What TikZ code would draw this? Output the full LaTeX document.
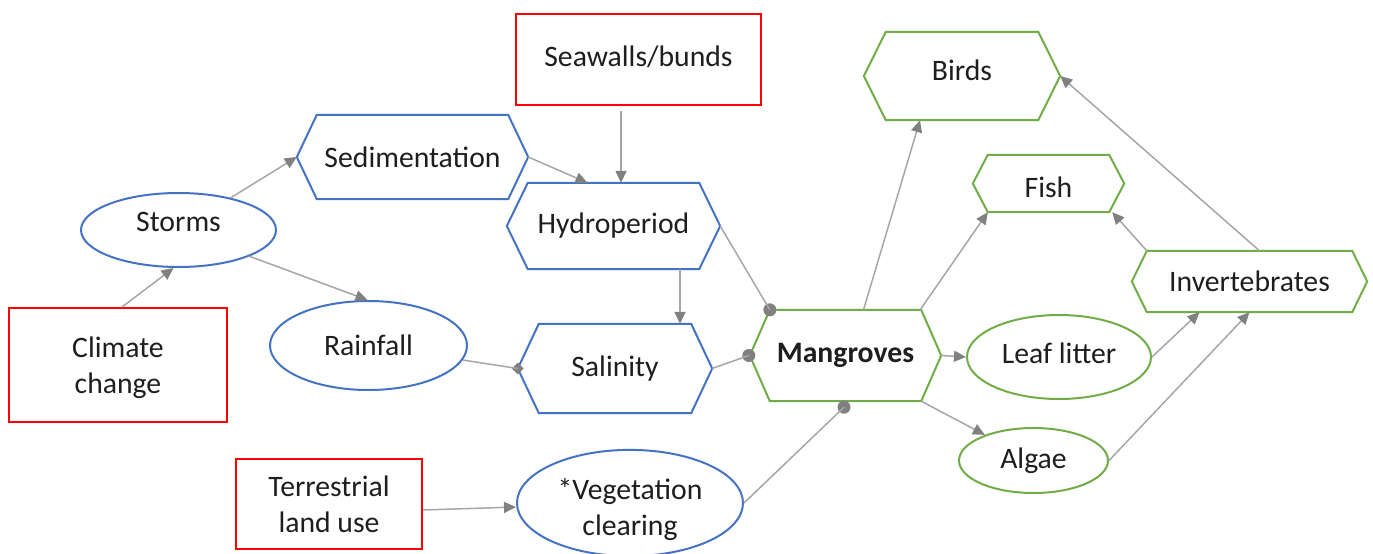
\documentclass[tikz,border=0pt]{standalone}
\usepackage{fontspec}
\setmainfont{Carlito}
\usetikzlibrary{arrows.meta,shapes.geometric}

\definecolor{nodeblue}{HTML}{4472C4}
\definecolor{nodegreen}{HTML}{70AD47}
\definecolor{nodered}{HTML}{FF0000}
\definecolor{linkgray}{HTML}{A6A6A6}
\definecolor{tipgray}{HTML}{808080}
\definecolor{inkgray}{HTML}{1E1E1E}

\tikzset{
  base/.style={inner sep=0pt, text=inkgray, align=center,
    font=\fontsize{29.7}{36}\selectfont},
  driver/.style={base, rectangle, draw=nodered, line width=2pt},
  hexbox/.style={base, rectangle},
  oval/.style={base, ellipse, line width=2pt},
  link/.style={draw=linkgray, line width=1.5pt,
    -{Triangle[length=12pt,width=11pt,color=tipgray]}},
  plainlink/.style={draw=linkgray, line width=1.5pt},
  dotend/.style={circle, fill=tipgray, minimum size=13pt, inner sep=0pt},
  diamondend/.style={diamond, fill=tipgray, minimum width=12pt,
    minimum height=12pt, inner sep=0pt},
}

% hexagon outline around a rectangular node: node, indent, colour
\newcommand\hexoutline[3]{%
  \draw[#3, line width=2pt] (#1.west) -- ([xshift=#2]#1.north west)
    -- ([xshift=-#2]#1.north east) -- (#1.east)
    -- ([xshift=-#2]#1.south east) -- ([xshift=#2]#1.south west) -- cycle;}

\begin{document}
\begin{tikzpicture}[x=1pt, y=-1pt]
\useasboundingbox (0,0) rectangle (1373,554);

% drivers
\node[driver, minimum width=245pt, minimum height=91pt] (sea) at (638.5,59.5) {\raisebox{6pt}{Seawalls/bunds}};
\node[driver, minimum width=218pt, minimum height=114pt] (climate) at (118,365) {\rule{0pt}{26pt}Climate\\change};
\node[driver, minimum width=186pt, minimum height=90pt] (terr) at (329,504) {Terrestrial\\land use};

% pressures
\node[oval, draw=nodeblue, minimum width=195pt, minimum height=74pt] (storms) at (178.5,230) {\raisebox{16pt}{Storms}};
\node[oval, draw=nodeblue, minimum width=197pt, minimum height=89pt] (rain) at (368.5,345.5) {Rainfall};
\node[oval, draw=nodeblue, minimum width=226pt, minimum height=101pt] (veg) at (630,503) {\rule{0pt}{34pt}*Vegetation\\clearing};

\node[hexbox, minimum width=231pt, minimum height=84pt] (sed) at (412.5,157) {Sedimentation};
\node[hexbox, minimum width=213pt, minimum height=86pt] (hyd) at (613.5,226) {Hydroperiod};
\node[hexbox, minimum width=194pt, minimum height=89pt] (sal) at (615,368.5) {Salinity};
\hexoutline{sed}{20pt}{nodeblue}
\hexoutline{hyd}{21pt}{nodeblue}
\hexoutline{sal}{21pt}{nodeblue}

% ecosystem components
\node[hexbox, minimum width=191pt, minimum height=91pt] (mang) at (845.5,355.5) {\textbf{Mangroves}};
\node[hexbox, minimum width=196pt, minimum height=88pt] (birds) at (962,76) {\raisebox{12pt}{Birds}};
\node[hexbox, minimum width=151pt, minimum height=57pt] (fish) at (1048.5,183.5) {\rule{0pt}{29pt}Fish};
\node[hexbox, minimum width=235pt, minimum height=61pt] (inv) at (1249.5,281.5) {Invertebrates};
\hexoutline{mang}{20pt}{nodegreen}
\hexoutline{birds}{22pt}{nodegreen}
\hexoutline{fish}{15pt}{nodegreen}
\hexoutline{inv}{15pt}{nodegreen}

\node[oval, draw=nodegreen, minimum width=184pt, minimum height=84pt] (leaf) at (1059,357) {\raisebox{8pt}{Leaf litter}};
\node[oval, draw=nodegreen, minimum width=149pt, minimum height=65pt] (algae) at (1033.5,460.5) {Algae};

% end markers on mangroves
\node[dotend] (d1) at ([xshift=20pt]mang.north west) {};
\node[dotend] (d2) at ([xshift=-1pt]mang.west) {};
\node[dotend] (d3) at ([xshift=-1.5pt,yshift=-6pt]mang.south) {};
\node[diamondend] (dm) at (sal.west) {};

% connectors
\draw[link] ([xshift=4pt]climate.north) -- ([xshift=-5pt]storms.south);
\draw[link] (storms) -- (sed.west);
\draw[link] (storms) -- ([xshift=-1pt]rain.north);
\draw[link] (sed.east) -- ([xshift=-26pt]hyd.north);
\draw[link] ([xshift=-17.5pt,yshift=-5pt]sea.south) -- ([xshift=7.5pt]hyd.north);
\draw[link] ([xshift=66.5pt]hyd.south) -- ([xshift=65pt]sal.north);
\draw[plainlink] (rain) -- (dm.center);
\draw[plainlink] (hyd.east) -- (d1.center);
\draw[plainlink] (sal.east) -- (d2.center);
\draw[plainlink] (veg.east) -- (d3.center);
\draw[link] ([yshift=-6pt]terr.east) -- ([yshift=-4pt]veg.west);

\draw[link] ([xshift=18pt]mang.north) -- ([xshift=-42pt]birds.south);
\draw[link] ([xshift=-21pt]mang.north east) -- ([xshift=15pt]fish.south west);
\draw[link] (mang.east) -- (leaf.west);
\draw[link] ([xshift=-20pt]mang.south east) -- (algae);
\draw[link] (leaf.east) -- ([xshift=-50pt]inv.south);
\draw[link] (algae.east) -- (inv.south);
\draw[link] ([xshift=15pt]inv.north west) -- ([xshift=-12pt]fish.south east);
\draw[link] ([xshift=10pt]inv.north) -- (birds.east);
\end{tikzpicture}
\end{document}
